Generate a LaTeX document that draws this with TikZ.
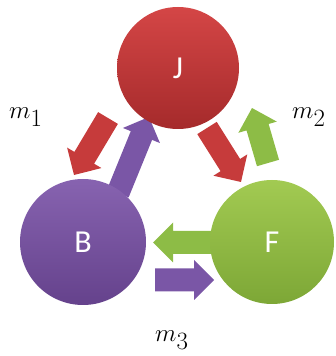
\documentclass[tikz,border=0pt]{standalone}
\usepackage{fontspec}
\newfontfamily\lblfont{Carlito}
\usetikzlibrary{calc}
\definecolor{redtop}{HTML}{D44646}
\definecolor{redbot}{HTML}{A52A2B}
\definecolor{redarr}{HTML}{C63B3B}
\definecolor{purtop}{HTML}{8763B0}
\definecolor{purbot}{HTML}{65428C}
\definecolor{purarr}{HTML}{7A56A6}
\definecolor{grntop}{HTML}{A2CA52}
\definecolor{grnbot}{HTML}{7DA736}
\definecolor{grnarr}{HTML}{8DBC46}
\newcommand\blockarr[3]{%
  \path[fill=#3] let \p1=(#1),\p2=(#2),
    \n1={atan2(\y2-\y1,\x2-\x1)},\n2={veclen(\x2-\x1,\y2-\y1)} in
    [shift={(\p1)},rotate=\n1]
    (0,-11.5) -- (\n2-20,-11.5) -- (\n2-20,-20) -- (\n2,0) --
    (\n2-20,20) -- (\n2-20,11.5) -- (0,11.5) -- cycle;}
\tikzset{
  ball/.style={circle, inner sep=0pt, text=white,
    font=\lblfont\fontsize{32}{36}\selectfont},
  redball/.style={ball, top color=redtop, bottom color=redbot},
  purball/.style={ball, top color=purtop, bottom color=purbot},
  grnball/.style={ball, top color=grntop, bottom color=grnbot},
  mlabel/.style={anchor=base west, inner sep=0pt,
    font=\fontsize{38}{42}\selectfont}
}
\begin{document}
\begin{tikzpicture}[x=1pt,y=1pt]
\useasboundingbox (0,0) rectangle (336,356);
% arrow end points
\coordinate (rJBs) at (108,238);
\coordinate (rJBe) at (74,181);
\coordinate (pBJs) at (118,163);
\coordinate (pBJe) at (149,239);
\coordinate (rJFs) at (207,228);
\coordinate (rJFe) at (241,174);
\coordinate (gFJs) at (268,193);
\coordinate (gFJe) at (252,248);
\coordinate (gFBs) at (212,113.5);
\coordinate (gFBe) at (153,113.5);
\coordinate (pBFs) at (155,76);
\coordinate (pBFe) at (214,76);
% block arrows
\blockarr{rJBs}{rJBe}{redarr}
\blockarr{pBJs}{pBJe}{purarr}
\blockarr{rJFs}{rJFe}{redarr}
\blockarr{gFJs}{gFJe}{grnarr}
\blockarr{gFBs}{gFBe}{grnarr}
\blockarr{pBFs}{pBFe}{purarr}
% circles
\node[redball, minimum size=122pt] (J) at (178,288) {J};
\node[purball, minimum size=126pt] (B) at (83,114) {B};
\node[grnball, minimum size=124pt] (F) at (272,114) {F};
% labels
\node[mlabel] (m1) at (9,237) {$m_1$};
\node[mlabel] (m2) at (292,237) {$m_2$};
\node[mlabel] (m3) at (155,14) {$m_3$};
\end{tikzpicture}
\end{document}
